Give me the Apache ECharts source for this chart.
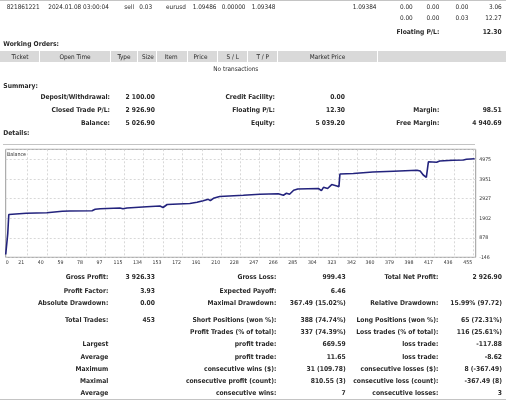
<!DOCTYPE html>
<html>
<head>
<meta charset="utf-8">
<script src="https://cdn.jsdelivr.net/npm/echarts@6/dist/echarts.min.js"></script>
<style>
    html, body { margin: 0; padding: 0; background: #fff; }
    #page {
        position: relative; width: 506px; height: 400px; overflow: hidden;
        font-family: "DejaVu Sans Condensed", "DejaVu Sans", sans-serif; color: #2a2a2a;
    }
    #chart { position: absolute; left: 0; top: 0; width: 506px; height: 400px; }
    .t { position: absolute; white-space: nowrap; line-height: 8px; height: 8px; font-size: 6.4px; z-index: 2; }
    .b { font-weight: bold; font-size: 6.7px; }
    .hd { position: absolute; background: #d9d9d9; top: 50.7px; height: 11.6px; z-index: 1; }
    .rule { position: absolute; height: 1px; background: #c4c4c4; z-index: 1; }
</style>
</head>
<body>
<div id="page">
    <div id="chart"></div>
</div>
<script>
// Balance curve: trade number -> account balance
const tradeIdx = [0, 1, 2, 3, 20, 40, 41, 55, 62, 84, 87, 92, 111, 114, 118, 137, 150, 153, 157,
    179, 186, 192, 197, 199, 202, 208, 231, 247, 265, 270, 273, 276, 280, 284, 304, 307, 309,
    313, 317, 322, 324, 325, 338, 357, 377, 400, 403, 406, 409, 411, 419, 422, 435, 445, 448, 456];
const balance = [0, 100, 1100, 2100, 2163, 2194, 2247, 2268, 2283, 2299, 2373, 2404, 2441, 2399, 2441,
    2509, 2546, 2467, 2624, 2677, 2740, 2824, 2897, 2824, 2950, 3044, 3107, 3160, 3186, 3112, 3212,
    3160, 3375, 3438, 3464, 3354, 3527, 3464, 3669, 3595, 3553, 4222, 4251, 4330, 4372, 4420, 4382,
    4172, 4053, 4864, 4839, 4907, 4944, 4959, 4996, 5027];

// axes
const xTickLabels = [0, 21, 40, 59, 78, 97, 115, 134, 153, 172, 191, 210, 228, 247, 266, 285,
    304, 323, 342, 360, 379, 398, 417, 436, 455];
const xCount = 458;
const yMin = -146;
const yStep = 1024.2;
const yMax = 5521;

const FONT = '"DejaVu Sans Condensed", "DejaVu Sans", sans-serif';

// text of the report around the chart: [x, y, align, text, bold]
const texts = [
    [6.7, 6.7, 'l', '821861221'], [48.3, 6.7, 'l', '2024.01.08 03:00:04'], [134, 6.7, 'r', 'sell'],
    [139.3, 6.7, 'l', '0.03'], [166, 6.7, 'l', 'eurusd'], [192.7, 6.7, 'l', '1.09486'],
    [221.7, 6.7, 'l', '0.00000'], [251.7, 6.7, 'l', '1.09348'], [352.7, 6.7, 'l', '1.09384'],
    [412.7, 6.7, 'r', '0.00'], [439.3, 6.7, 'r', '0.00'], [468.3, 6.7, 'r', '0.00'], [501.7, 6.7, 'r', '3.06'],
    [412.7, 18.3, 'r', '0.00'], [439.3, 18.3, 'r', '0.00'], [468.3, 18.3, 'r', '0.03'], [501.7, 18.3, 'r', '12.27'],
    [439.3, 32.3, 'r', 'Floating P/L:', 1], [501.7, 32.3, 'r', '12.30', 1],
    [3.3, 44.3, 'l', 'Working Orders:', 1],
    [20, 56.5, 'c', 'Ticket'], [75, 56.5, 'c', 'Open Time'], [124, 56.5, 'c', 'Type'], [147.8, 56.5, 'c', 'Size'],
    [171, 56.5, 'c', 'Item'], [200.5, 56.5, 'c', 'Price'], [232.7, 56.5, 'c', 'S / L'], [262.7, 56.5, 'c', 'T / P'],
    [327.5, 56.5, 'c', 'Market Price'],
    [235.8, 69, 'c', 'No transactions'],
    [3.3, 85.7, 'l', 'Summary:', 1],
    [110, 97.3, 'r', 'Deposit/Withdrawal:', 1], [155, 97.3, 'r', '2 100.00', 1],
    [275, 97.3, 'r', 'Credit Facility:', 1], [345, 97.3, 'r', '0.00', 1],
    [110, 110, 'r', 'Closed Trade P/L:', 1], [155, 110, 'r', '2 926.90', 1],
    [275, 110, 'r', 'Floating P/L:', 1], [345, 110, 'r', '12.30', 1],
    [439.3, 110, 'r', 'Margin:', 1], [501.7, 110, 'r', '98.51', 1],
    [110, 122.7, 'r', 'Balance:', 1], [155, 122.7, 'r', '5 026.90', 1],
    [275, 122.7, 'r', 'Equity:', 1], [345, 122.7, 'r', '5 039.20', 1],
    [439.3, 122.7, 'r', 'Free Margin:', 1], [501.7, 122.7, 'r', '4 940.69', 1],
    [3.3, 133.3, 'l', 'Details:', 1]
];

// statistics table below the chart: one row per line, 6 columns
const statRows = [
    [277.3, 'Gross Profit:', '3 926.33', 'Gross Loss:', '999.43', 'Total Net Profit:', '2 926.90'],
    [290.7, 'Profit Factor:', '3.93', 'Expected Payoff:', '6.46', '', ''],
    [303.3, 'Absolute Drawdown:', '0.00', 'Maximal Drawdown:', '367.49 (15.02%)', 'Relative Drawdown:', '15.99% (97.72)'],
    [320, 'Total Trades:', '453', 'Short Positions (won %):', '388 (74.74%)', 'Long Positions (won %):', '65 (72.31%)'],
    [332.3, '', '', 'Profit Trades (% of total):', '337 (74.39%)', 'Loss trades (% of total):', '116 (25.61%)'],
    [344, 'Largest', '', 'profit trade:', '669.59', 'loss trade:', '-117.88'],
    [356.7, 'Average', '', 'profit trade:', '11.65', 'loss trade:', '-8.62'],
    [369, 'Maximum', '', 'consecutive wins ($):', '31 (109.78)', 'consecutive losses ($):', '8 (-367.49)'],
    [380.7, 'Maximal', '', 'consecutive profit (count):', '810.55 (3)', 'consecutive loss (count):', '-367.49 (8)'],
    [392.7, 'Average', '', 'consecutive wins:', '7', 'consecutive losses:', '3']
];
const statCols = [108.3, 155, 276.3, 345.7, 438.3, 502];

const page = document.getElementById('page');

function put(x, y, align, text, bold) {
    const el = document.createElement('div');
    el.className = bold ? 't b' : 't';
    el.textContent = text;
    el.style.top = (y - 4) + 'px';
    if (align === 'l') {
        el.style.left = x + 'px';
    } else if (align === 'r') {
        el.style.right = (506 - x) + 'px';
    } else {
        el.style.left = (x - 100) + 'px';
        el.style.width = '200px';
        el.style.textAlign = 'center';
    }
    page.appendChild(el);
}

function box(cls, left, width, top) {
    const el = document.createElement('div');
    el.className = cls;
    el.style.left = left + 'px';
    el.style.width = width + 'px';
    if (top !== undefined) el.style.top = top + 'px';
    page.appendChild(el);
}

// header cells of the working orders table
[[0, 39], [40, 110], [111, 137], [138, 155.5], [156.5, 187], [188, 217], [218, 247],
    [248, 277], [278, 377], [378, 506]].forEach(([a, b]) => box('hd', a, b - a));
box('rule', 0, 506, 0);
box('rule', 3, 472, 144);
box('rule', 0, 506, 398.5);

texts.forEach(([x, y, align, text, bold]) => put(x, y, align, text, bold));
statRows.forEach((row) => {
    const y = row[0];
    row.slice(1).forEach((text, i) => {
        if (text) put(statCols[i], y, 'r', text, 1);
    });
});

// balance chart
const chart = echarts.init(document.getElementById('chart'));
const categories = Array.from({ length: xCount }, (_, i) => String(i));
const tickSet = new Set(xTickLabels);

chart.setOption({
    animation: false,
    title: {
        text: 'Balance',
        left: 7,
        top: 152,
        padding: 0,
        textStyle: { fontSize: 5.3, fontWeight: 'normal', color: '#333', fontFamily: FONT }
    },
    grid: {
        left: 5.7,
        top: 149.3,
        width: 470,
        height: 108,
        show: true,
        borderColor: '#9a9a9a',
        borderWidth: 1,
        backgroundColor: '#fff'
    },
    xAxis: {
        type: 'category',
        data: categories,
        boundaryGap: false,
        axisLine: { show: false },
        axisTick: { show: false },
        axisLabel: {
            interval: (i) => tickSet.has(i),
            fontSize: 5.2,
            fontFamily: FONT,
            color: '#333',
            margin: 2.4,
            padding: [0, 12, 0, 0],
            formatter: (v) => (v === '0' ? '{z|0}' : v),
            rich: { z: { padding: [0, 0, 0, 15], fontSize: 5.2, fontFamily: FONT, color: '#333' } }
        },
        splitLine: {
            show: true,
            interval: (i) => tickSet.has(i) && i !== 0,
            lineStyle: { color: '#cfcfcf', type: [2, 2], width: 0.8 }
        }
    },
    yAxis: {
        type: 'value',
        position: 'right',
        min: yMin,
        max: yMax,
        interval: yStep,
        axisLine: { show: false },
        axisTick: { show: false },
        axisLabel: {
            fontSize: 5.2,
            fontFamily: FONT,
            color: '#333',
            margin: 3.5,
            showMaxLabel: false,
            formatter: (v) => String(Math.round(v))
        },
        splitLine: { lineStyle: { color: '#cfcfcf', type: [2, 2], width: 0.8 } }
    },
    series: [
        {
            name: 'Balance',
            type: 'line',
            data: tradeIdx.map((x, i) => [x, balance[i]]),
            symbol: 'none',
            lineStyle: { color: '#23237d', width: 1.6 }
        }
    ]
});
</script>
</body>
</html>
